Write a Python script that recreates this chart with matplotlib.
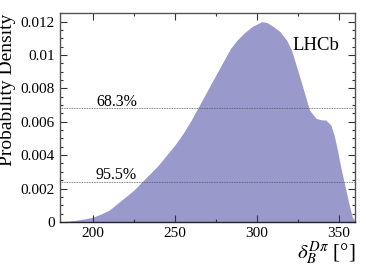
import numpy as np
import matplotlib
matplotlib.use("Agg")
import matplotlib.pyplot as plt
from matplotlib.ticker import MultipleLocator

plt.rcParams['font.family'] = ['Liberation Serif', 'DejaVu Serif']
plt.rcParams['mathtext.fontset'] = 'stix'

# posterior density of delta_B^{D pi} (degrees)
delta = [180, 185, 190, 195, 200, 205, 210, 215, 220, 225, 230, 235, 240, 245,
         250, 255, 260, 265, 270, 275, 280, 284, 288, 292, 297, 300, 303, 306,
         310, 314, 318, 321, 326, 332, 336, 339, 342, 345, 347, 349, 351, 353,
         356, 358, 360]
density = [0.0, 0.00004, 0.0001, 0.00018, 0.00028, 0.00047, 0.0007, 0.0011,
           0.0015, 0.0019, 0.0024, 0.0029, 0.0034, 0.0040, 0.0046, 0.0053,
           0.0061, 0.0070, 0.0079, 0.0088, 0.0097, 0.0104, 0.0109, 0.0113,
           0.0117, 0.01185, 0.0120, 0.01195, 0.0117, 0.0114, 0.0109, 0.0103,
           0.0087, 0.0067, 0.0062, 0.00612, 0.0061, 0.0058, 0.0052, 0.0043,
           0.0033, 0.0024, 0.0011, 0.0003, 0.0]
cl_labels = ['68.3%', '95.5%']
cl_levels = [0.0068, 0.0024]

fig = plt.figure(figsize=(3.74, 2.68), dpi=100)
ax = fig.add_axes([0.160, 0.172, 0.7905, 0.7785])

ax.fill_between(delta, density, 0, color='#9999cc', lw=0)
for lab, lev in zip(cl_labels, cl_levels):
    ax.axhline(lev, color='#555555', lw=0.6, ls=(0, (1, 1)))
    ax.text(202, lev + 0.00016, lab, fontsize=11.5, ha='left', va='baseline')

ax.set_xlim(180, 360)
ax.set_ylim(0, 0.0125)
ax.xaxis.set_major_locator(MultipleLocator(50))
ax.xaxis.set_minor_locator(MultipleLocator(25))
ax.yaxis.set_major_locator(MultipleLocator(0.002))
ax.yaxis.set_minor_locator(MultipleLocator(0.0005))
ax.set_yticks([0, 0.002, 0.004, 0.006, 0.008, 0.01, 0.012])
ax.set_yticklabels(['0', '0.002', '0.004', '0.006', '0.008', '0.01', '0.012'])
ax.tick_params(which='both', direction='in', top=True, right=True,
               labelsize=11, color='#333333')
ax.tick_params(which='major', length=5, width=0.8)
ax.tick_params(which='minor', length=2.5, width=0.8)
for s in ax.spines.values():
    s.set_color('#555555')
    s.set_linewidth(1.0)
ax.spines['bottom'].set_color('#222222')

ax.set_ylabel('Probability Density', fontsize=14)
ax.yaxis.set_label_coords(-0.148, 1.0)
ax.yaxis.label.set_ha('right')
ax.text(1.0, -0.085, r'$\delta_B^{D\pi}$ [°]', transform=ax.transAxes,
        fontsize=15, ha='right', va='top')
ax.text(0.947, 0.825, 'LHCb', transform=ax.transAxes, fontsize=13.5,
        ha='right', va='baseline')

fig.savefig('out.png', dpi=100)
